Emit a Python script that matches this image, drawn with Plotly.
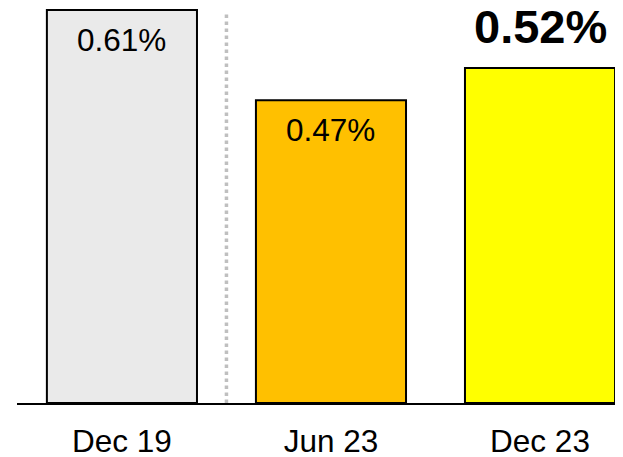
import plotly.graph_objects as go

categories = ["Dec 19", "Jun 23", "Dec 23"]
values = [0.61, 0.47, 0.52]
labels = ["0.61%", "0.47%", "0.52%"]
colors = ["#EAEAEA", "#FFC000", "#FFFF00"]

fig = go.Figure()
fig.add_trace(go.Bar(
    x=categories, y=values,
    marker=dict(color=colors, line=dict(color="black", width=2)),
    width=0.718,
    hoverinfo="skip",
))

# value labels
for i, (c, v, t) in enumerate(zip(categories, values, labels)):
    if i < 2:
        fig.add_annotation(x=c, y=v, text=t, showarrow=False, yanchor="middle",
                           yshift=-30, font=dict(family="Liberation Sans, Arial", size=31.5, color="black"))
    else:
        fig.add_annotation(x=c, y=v, text="<b>" + t + "</b>", showarrow=False, yanchor="middle",
                           yshift=41, font=dict(family="Liberation Sans, Arial", size=47, color="black"))

# dotted separator between Dec 19 and Jun 23
fig.add_shape(type="line", xref="x", yref="y", x0=0.5, x1=0.5, y0=0, y1=values[0] - 0.005,
              line=dict(color="#BFBFBF", width=3.5, dash="dot"))

fig.update_layout(
    width=623, height=457,
    margin=dict(l=9, r=8, t=0, b=62),
    plot_bgcolor="white", paper_bgcolor="white",
    showlegend=False,
    font=dict(family="Liberation Sans, Arial", size=31.5, color="black"),
    xaxis=dict(range=[-0.502, 2.397], showline=True, linecolor="black", linewidth=2,
               showgrid=False, ticks="", tickfont=dict(size=31.5), ticklabelstandoff=9,
               zeroline=False),
    yaxis=dict(range=[0, 0.6131], visible=False, showgrid=False, zeroline=False),
)

fig.write_html("out.html")
